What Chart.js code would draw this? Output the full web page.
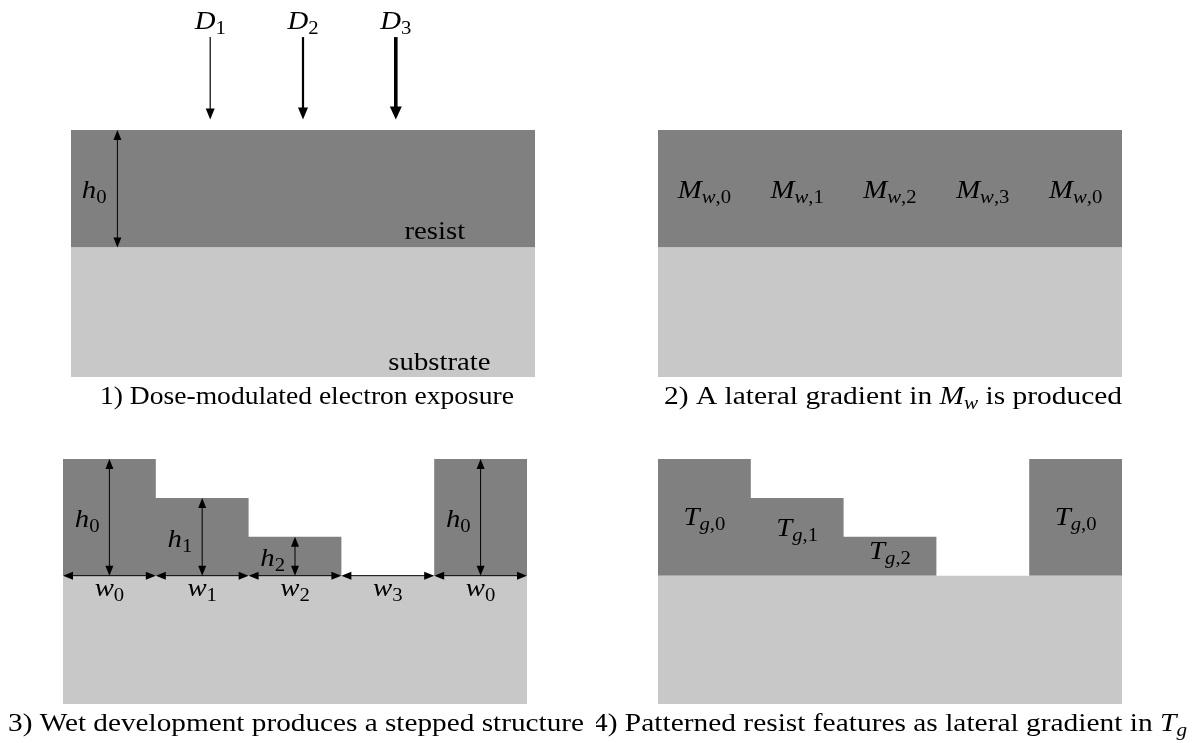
<!DOCTYPE html>
<html>
<head>
<meta charset="utf-8">
<script src="https://cdn.jsdelivr.net/npm/chart.js@4.4.0/dist/chart.umd.min.js"></script>
<style>
  body { margin: 0; background: #fff; width: 1192px; height: 743px; overflow: hidden; }
  .panel { position: absolute; }
</style>
</head>
<body>
<div class="panel" style="left:0;top:0"><canvas id="p1" width="596" height="415"></canvas></div>
<div class="panel" style="left:596px;top:0"><canvas id="p2" width="596" height="415"></canvas></div>
<div class="panel" style="left:0;top:415px"><canvas id="p3" width="596" height="328"></canvas></div>
<div class="panel" style="left:596px;top:415px"><canvas id="p4" width="596" height="328"></canvas></div>
<script>
// cells along the sample (one unit = one cell width)
const cellLabels = ['$w_0$', '$w_1$', '$w_2$', '$w_3$', '$w_0$'];
const cellWidths = [1, 1, 1, 1, 1];
// resist thickness per cell, in units of h2
const heightsExposed = [3, 3, 3, 3, 3];
const heightsDeveloped = [3, 2, 1, 0, 3];
const heightLabels = ['$h_0$', '$h_1$', '$h_2$', '', '$h_0$'];
const substrateDepth = 3.3;
// dose arrows hit cells 1..3
const doseCells = [1, 2, 3];
const doseLabels = ['$D_1$', '$D_2$', '$D_3$'];
const mwLabels = ['$M_{w,0}$', '$M_{w,1}$', '$M_{w,2}$', '$M_{w,3}$', '$M_{w,0}$'];
const tgLabels = ['$T_{g,0}$', '$T_{g,1}$', '$T_{g,2}$', '', '$T_{g,0}$'];
const captions = [
  '1) Dose-modulated electron exposure',
  '2) A lateral gradient in $M_w$ is produced',
  '3) Wet development produces a stepped structure',
  '4) Patterned resist features as lateral gradient in $T_g$'
];

// ---- layout / style (not data) ----
const RESIST = '#808080';
const SUBSTRATE = '#c8c8c8';
const FONT = '"Liberation Serif", "Times New Roman", serif';
const FS = 25;
const STRETCH = 1.15;
const doseStyles = [{lw: 1.2, hl: 11, hw: 9}, {lw: 2.2, hl: 12, hw: 10}, {lw: 3.6, hl: 13, hw: 12}];
const dimStyle = {lw: 1, hl: 10, hw: 8};
const doseTip = 3.27, doseTail = 5.37, doseLabelY = 5.58;
const tgBaselines = [1.31, 1.01, 0.43, null, 1.31];
const captionFit = [{w: 414, dx: 4}, {w: 458, dx: 3}, {w: 576, dx: 1}, {w: 594, dx: 0}];

const starts = cellWidths.map((w, i) => cellWidths.slice(0, i).reduce((a, b) => a + b, 0));
const total = cellWidths.reduce((a, b) => a + b, 0);
const mid = i => starts[i] + cellWidths[i] / 2;

function profile(heights) {
  const pts = [];
  heights.forEach((h, i) => {
    pts.push({x: starts[i], y: h});
    pts.push({x: starts[i] + cellWidths[i], y: h});
  });
  return pts;
}

function parseRich(str) {
  const tokens = [];
  str.split('$').forEach((seg, k) => {
    if (k % 2 === 0) {
      if (seg) tokens.push({t: seg, it: false, sub: false});
      return;
    }
    let i = 0;
    while (i < seg.length) {
      const c = seg[i];
      if (c === '_') {
        let s;
        if (seg[i + 1] === '{') { const j = seg.indexOf('}', i); s = seg.slice(i + 2, j); i = j + 1; }
        else { s = seg[i + 1]; i += 2; }
        for (const ch of s) tokens.push({t: ch, it: /[a-zA-Z]/.test(ch), sub: true});
      } else {
        tokens.push({t: c, it: /[a-zA-Z]/.test(c), sub: false});
        i++;
      }
    }
  });
  return tokens;
}

function fontOf(tok, size) {
  return (tok.it ? 'italic ' : '') + (tok.sub ? Math.round(size * 0.7) : size) + 'px ' + FONT;
}

function drawRich(ctx, str, x, y, opts) {
  const size = opts.size || FS;
  const tokens = parseRich(str);
  let tot = 0;
  tokens.forEach(tok => { ctx.font = fontOf(tok, size); tok.w = ctx.measureText(tok.t).width; tot += tok.w; });
  const sx = opts.width ? opts.width / tot : STRETCH;
  const left = x - tot * sx / 2;
  ctx.save();
  ctx.translate(left, y);
  ctx.scale(sx, 1);
  ctx.fillStyle = '#000';
  ctx.textBaseline = 'alphabetic';
  ctx.textAlign = 'left';
  let cx = 0;
  tokens.forEach(tok => {
    ctx.font = fontOf(tok, size);
    ctx.fillText(tok.t, cx, tok.sub ? size * 0.2 : 0);
    cx += tok.w;
  });
  ctx.restore();
}

function drawHead(ctx, x, y, ux, uy, st) {
  const bx = x - ux * st.hl, by = y - uy * st.hl;
  ctx.beginPath();
  ctx.moveTo(x, y);
  ctx.lineTo(bx - uy * st.hw / 2, by + ux * st.hw / 2);
  ctx.lineTo(bx + uy * st.hw / 2, by - ux * st.hw / 2);
  ctx.closePath();
  ctx.fill();
}

function drawArrow(ctx, x1, y1, x2, y2, st, both) {
  const dx = x2 - x1, dy = y2 - y1, L = Math.hypot(dx, dy), ux = dx / L, uy = dy / L;
  const a = both ? st.hl * 0.8 : 0;
  ctx.save();
  ctx.strokeStyle = '#000';
  ctx.fillStyle = '#000';
  ctx.lineWidth = st.lw;
  ctx.beginPath();
  ctx.moveTo(x1 + ux * a, y1 + uy * a);
  ctx.lineTo(x2 - ux * st.hl * 0.8, y2 - uy * st.hl * 0.8);
  ctx.stroke();
  drawHead(ctx, x2, y2, ux, uy, st);
  if (both) drawHead(ctx, x1, y1, -ux, -uy, st);
  ctx.restore();
}

function annotations(spec) {
  return {
    id: 'annot',
    afterDatasetsDraw(chart) {
      const ctx = chart.ctx, xs = chart.scales.x, ys = chart.scales.y;
      const px = v => xs.getPixelForValue(v), py = v => ys.getPixelForValue(v);
      (spec.arrows || []).forEach(a =>
        drawArrow(ctx, px(a.x1), py(a.y1), px(a.x2), py(a.y2), a.st, a.both));
      (spec.labels || []).forEach(l => { if (l.text) drawRich(ctx, l.text, px(l.x), py(l.y), {}); });
      const ca = chart.chartArea, cf = spec.caption;
      drawRich(ctx, cf.text, (ca.left + ca.right) / 2 + cf.dx, ca.bottom + 27, {width: cf.w});
    }
  };
}

function makePanel(id, heights, padding, spec) {
  new Chart(document.getElementById(id), {
    type: 'line',
    data: {
      datasets: [
        {
          data: [{x: 0, y: 0}, {x: total, y: 0}],
          borderColor: 'rgba(0,0,0,0)',
          backgroundColor: SUBSTRATE,
          fill: 'start',
          pointRadius: 0
        },
        {
          data: profile(heights),
          borderColor: 'rgba(0,0,0,0)',
          backgroundColor: RESIST,
          fill: {value: 0},
          pointRadius: 0
        }
      ]
    },
    options: {
      responsive: false,
      animation: false,
      devicePixelRatio: 1,
      events: [],
      layout: {padding: padding},
      scales: {
        x: {type: 'linear', min: 0, max: total, display: false},
        y: {type: 'linear', min: -substrateDepth, max: 3, display: false}
      },
      plugins: {legend: {display: false}, tooltip: {enabled: false}}
    },
    plugins: [annotations(spec)]
  });
}

// panel 1: exposure
makePanel('p1', heightsExposed, {left: 71, right: 61, top: 130, bottom: 38}, {
  arrows: doseCells.map((c, i) => ({x1: mid(c), y1: doseTail, x2: mid(c), y2: doseTip, st: doseStyles[i]}))
    .concat([{x1: mid(0), y1: 0, x2: mid(0), y2: heightsExposed[0], st: dimStyle, both: true}]),
  labels: doseCells.map((c, i) => ({text: doseLabels[i], x: mid(c), y: doseLabelY}))
    .concat([
      {text: heightLabels[0], x: starts[0] + 0.25, y: heightsExposed[0] / 2 - 0.23},
      {text: 'resist', x: 3.92, y: 0.23},
      {text: 'substrate', x: 3.97, y: -3.12}
    ]),
  caption: Object.assign({text: captions[0]}, captionFit[0])
});

// panel 2: Mw gradient
makePanel('p2', heightsExposed, {left: 62, right: 70, top: 130, bottom: 38}, {
  labels: mwLabels.map((t, i) => ({text: t, x: mid(i), y: 1.27})),
  caption: Object.assign({text: captions[1]}, captionFit[1])
});

// panel 3: developed steps with dimensions
const devArrows = [];
const devLabels = [];
heightsDeveloped.forEach((h, i) => {
  if (h > 0) {
    devArrows.push({x1: mid(i), y1: 0, x2: mid(i), y2: h, st: dimStyle, both: true});
    devLabels.push({text: heightLabels[i], x: starts[i] + 0.26, y: h / 2 - 0.25});
  }
  devArrows.push({x1: starts[i], y1: 0, x2: starts[i] + cellWidths[i], y2: 0, st: dimStyle, both: true});
  devLabels.push({text: cellLabels[i], x: mid(i), y: -0.52});
});
makePanel('p3', heightsDeveloped, {left: 63, right: 69, top: 44, bottom: 39}, {
  arrows: devArrows,
  labels: devLabels,
  caption: Object.assign({text: captions[2]}, captionFit[2])
});

// panel 4: Tg gradient
makePanel('p4', heightsDeveloped, {left: 62, right: 70, top: 44, bottom: 39}, {
  labels: tgLabels.map((t, i) => ({text: t, x: mid(i), y: tgBaselines[i]})),
  caption: Object.assign({text: captions[3]}, captionFit[3])
});
</script>
</body>
</html>
